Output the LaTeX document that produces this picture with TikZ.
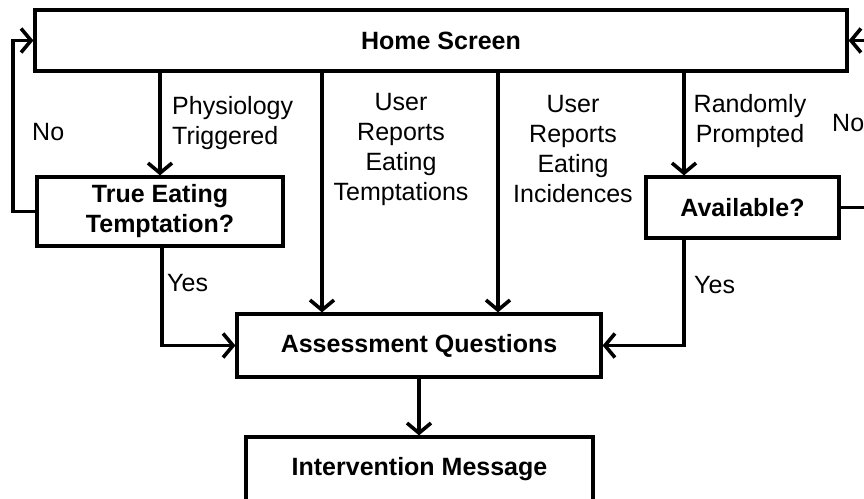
\documentclass[tikz,border=0pt]{standalone}
\usepackage{fontspec}
\setmainfont{Liberation Sans}
\usetikzlibrary{arrows.meta}
\begin{document}
\begin{tikzpicture}[x=1pt,y=-1pt,
  box/.style={draw,line width=3.2pt,rectangle,inner sep=0pt,font=\fontsize{25}{30}\selectfont\bfseries,align=center},
  lbl/.style={inner sep=0pt,font=\fontsize{25}{30}\selectfont},
  conn/.style={line width=3.6pt},
  arr/.style={conn,-{Straight Barb[length=10pt,width=24pt]}}]
\useasboundingbox (0,0) rectangle (864,498);
% boxes
\node[box,minimum width=812pt,minimum height=61pt] (home) at (441,40.5) {Home Screen};
\node[box,minimum width=246pt,minimum height=69pt] (tet) at (160,211.5) {True Eating\\Temptation?};
\node[box,minimum width=193pt,minimum height=61pt] (avail) at (742.5,207.5) {Available?};
\node[box,minimum width=364pt,minimum height=63pt] (assess) at (419,345.5) {Assessment Questions};
\node[box,minimum width=347pt,minimum height=64pt] (interv) at (419.5,469) {Intervention Message};
% labels
\node[lbl,align=left,anchor=west] (lphys) at (172,123.5) {Physiology\\Triggered};
\node[lbl,align=center] (lut) at (401,149) {User\\Reports\\Eating\\Temptations};
\node[lbl,align=center] (lui) at (573,149) {User\\Reports\\Eating\\Incidences};
\node[lbl,align=center] (lrp) at (750,121) {Randomly\\Prompted};
\node[lbl,anchor=west] (lnol) at (32,132) {No};
\node[lbl,anchor=west] (lnor) at (832,123) {No};
\node[lbl,anchor=west] (lyesl) at (167,283) {Yes};
\node[lbl,anchor=west] (lyesr) at (694,285) {Yes};
% helper coordinates
\coordinate (cl) at (13,0);
\coordinate (cr) at (872,0);
\coordinate (cut) at (322,0);
\coordinate (cui) at (498,0);
\coordinate (crp) at (684,0);
\coordinate (cy) at (162,0);
% connectors
\draw[arr] (home.south -| tet.north) -- (tet.north);
\draw[arr] (tet.west) -| (home.west -| cl) -- (home.west);
\draw[arr] (tet.south -| cy) |- (assess.west);
\draw[arr] (home.south -| cut) -- (assess.north -| cut);
\draw[arr] (home.south -| cui) -- (assess.north -| cui);
\draw[arr] (home.south -| crp) -- (avail.north -| crp);
\draw[arr] (avail.south -| crp) |- (assess.east);
\draw[arr] (avail.east) -| (home.east -| cr) -- (home.east);
\draw[arr] (assess.south) -- (assess.south |- interv.north);
\end{tikzpicture}
\end{document}
